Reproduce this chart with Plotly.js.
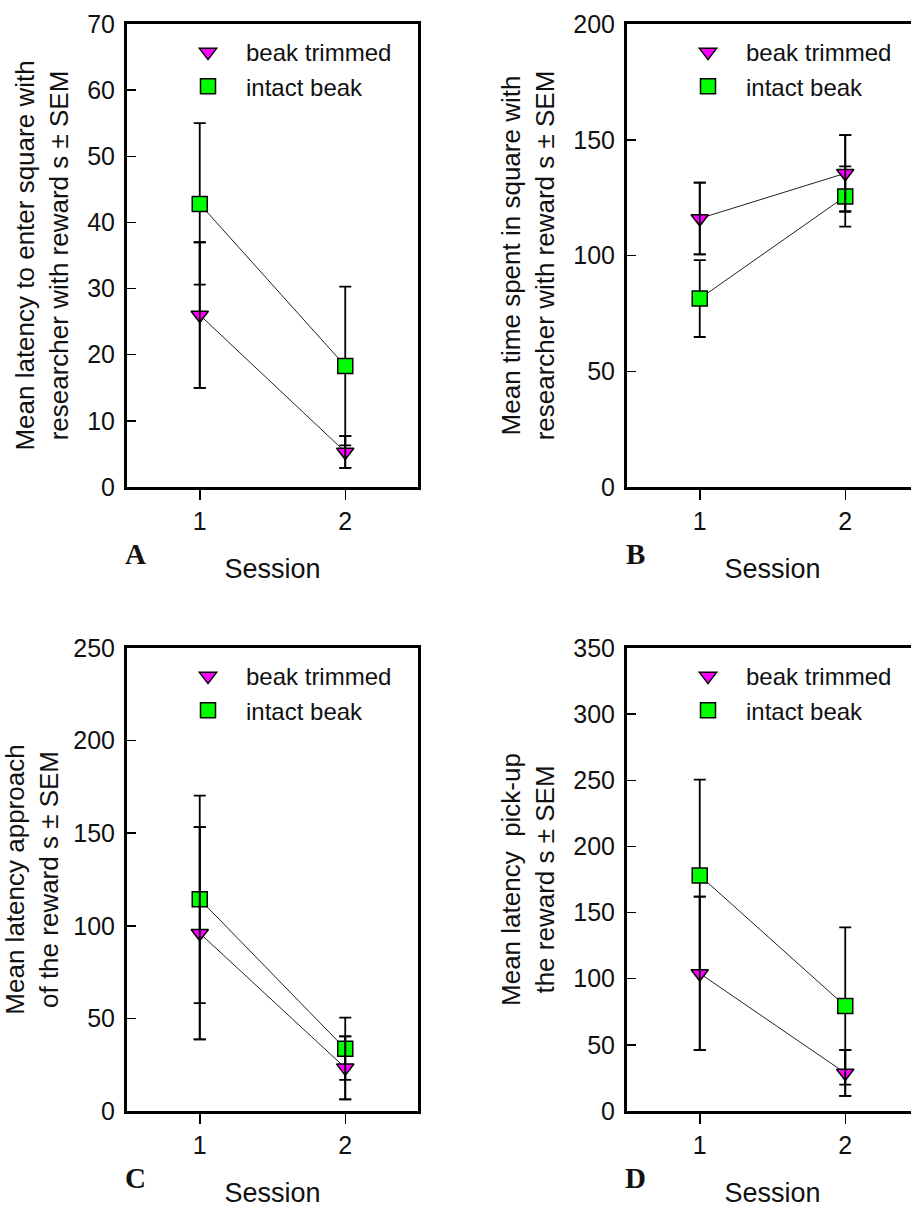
<!DOCTYPE html>
<html>
<head>
<meta charset="utf-8">
<script src="https://cdn.plot.ly/plotly-3.0.1.min.js"></script>
<style>
  html, body { margin: 0; padding: 0; overflow: hidden; background: #fff; }
  #chart { width: 930px; height: 1210px; }
</style>
</head>
<body>
<div id="chart"></div>
<script>
// Sessions on the x axis
const sessions = [1, 2];
const sessionTicks = ['1', '2'];

// A: latency to enter the square with the researcher (s)
const aTrimmed = [26.0, 5.3];
const aTrimmedSem = [11.0, 2.4];
const aIntact = [42.8, 18.3];
const aIntactSem = [12.2, 12.0];

// B: time spent in the square with the researcher (s)
const bTrimmed = [116.0, 135.5];
const bTrimmedSem = [15.5, 16.5];
const bIntact = [81.4, 125.5];
const bIntactSem = [16.6, 13.0];

// C: latency to approach the reward (s)
const cTrimmed = [96.0, 23.3];
const cTrimmedSem = [57.3, 17.0];
const cIntact = [114.3, 33.6];
const cIntactSem = [56.0, 16.8];

// D: latency to pick up the reward (s)
const dTrimmed = [104.0, 28.7];
const dTrimmedSem = [58.0, 17.3];
const dIntact = [178.0, 79.4];
const dIntactSem = [72.5, 59.4];

const groupNames = ['beak trimmed', 'intact beak'];
const panelLetters = ['A', 'B', 'C', 'D'];
const yTitles = [
  'Mean latency to enter square with<br>researcher with reward s \u00b1 SEM',
  'Mean time spent in square with<br>researcher with reward s \u00b1 SEM',
  'Mean latency approach<br>of the reward s \u00b1 SEM',
  'Mean latency  pick-up<br>the reward s \u00b1 SEM'
];
const yMax = [70, 200, 250, 350];
const yStep = [10, 50, 50, 50];

const panels = [
  { trimmed: aTrimmed, trimmedSem: aTrimmedSem, intact: aIntact, intactSem: aIntactSem },
  { trimmed: bTrimmed, trimmedSem: bTrimmedSem, intact: bIntact, intactSem: bIntactSem },
  { trimmed: cTrimmed, trimmedSem: cTrimmedSem, intact: cIntact, intactSem: cIntactSem },
  { trimmed: dTrimmed, trimmedSem: dTrimmedSem, intact: dIntact, intactSem: dIntactSem }
];

const FONT = 'Liberation Sans, Arial, sans-serif';
const INK = '#111';
const W = 930, H = 1210;

// plot-area boxes in pixels: [left, right, top, bottom]
const boxes = [
  [127, 418, 24, 487],
  [627, 918, 24, 487],
  [127, 418, 648, 1111],
  [627, 918, 648, 1111]
];

const traces = [];
const layout = {
  width: W, height: H,
  margin: { l: 0, r: 0, t: 0, b: 0 },
  paper_bgcolor: '#fff', plot_bgcolor: '#fff',
  font: { family: FONT, color: INK },
  showlegend: true,
  annotations: []
};

panels.forEach((p, i) => {
  const n = i + 1;
  const xa = n === 1 ? 'x' : 'x' + n;
  const ya = n === 1 ? 'y' : 'y' + n;
  const leg = n === 1 ? 'legend' : 'legend' + n;
  const [l, r, t, b] = boxes[i];

  const errStyle = { type: 'data', visible: true, color: '#000', thickness: 1.8, width: 6 };

  // connecting lines
  traces.push({
    x: sessions, y: p.intact, xaxis: xa, yaxis: ya, mode: 'lines',
    line: { color: '#222', width: 1 }, showlegend: false, hoverinfo: 'skip'
  });
  traces.push({
    x: sessions, y: p.trimmed, xaxis: xa, yaxis: ya, mode: 'lines',
    line: { color: '#222', width: 1 }, showlegend: false, hoverinfo: 'skip'
  });
  // intact beak
  traces.push({
    x: sessions, y: p.intact, xaxis: xa, yaxis: ya, mode: 'markers',
    name: groupNames[1], legend: leg, legendrank: 2,
    marker: { symbol: 'square', size: 15, color: '#00ff00', line: { color: '#000', width: 1.5 } },
    error_y: Object.assign({ array: p.intactSem }, errStyle)
  });
  // beak trimmed
  traces.push({
    x: sessions, y: p.trimmed, xaxis: xa, yaxis: ya, mode: 'markers',
    name: groupNames[0], legend: leg, legendrank: 1,
    marker: { symbol: 'triangle-down', size: 15, color: '#ff00ff', line: { color: '#000', width: 1.5 } },
    error_y: Object.assign({ array: p.trimmedSem }, errStyle)
  });
  // trimmed-group error bars redrawn above the symbols
  traces.push({
    x: sessions, y: p.trimmed, xaxis: xa, yaxis: ya, mode: 'markers',
    marker: { size: 1, color: 'rgba(0,0,0,0)' }, showlegend: false, hoverinfo: 'skip',
    error_y: Object.assign({ array: p.trimmedSem }, errStyle)
  });

  layout['xaxis' + (n === 1 ? '' : n)] = {
    anchor: ya, domain: [l / W, r / W], range: [0.5, 2.5],
    tickvals: sessions, ticktext: sessionTicks,
    ticks: 'outside', ticklen: 10, tickwidth: 1.5, tickcolor: '#000',
    showline: true, linewidth: 3, linecolor: '#000', mirror: true,
    showgrid: false, zeroline: false, fixedrange: true,
    tickfont: { size: 25, color: INK, family: FONT }, ticklabelstandoff: 0,
    title: { text: 'Session', font: { size: 27, color: INK, family: FONT }, standoff: 26 }
  };
  layout['yaxis' + (n === 1 ? '' : n)] = {
    anchor: xa, domain: [1 - b / H, 1 - t / H], range: [0, yMax[i]],
    tick0: 0, dtick: yStep[i],
    ticks: 'inside', ticklen: 9, tickwidth: 1.5, tickcolor: '#000',
    showline: true, linewidth: 3, linecolor: '#000', mirror: true,
    showgrid: false, zeroline: false, fixedrange: true,
    tickfont: { size: 25, color: INK, family: FONT }, ticklabelstandoff: 4,
    title: { text: yTitles[i], font: { size: 26, color: INK, family: FONT }, standoff: 12 }
  };
  layout[leg] = {
    x: (l + 43) / W, y: 1 - (t + 6) / H, xanchor: 'left', yanchor: 'top',
    bgcolor: 'rgba(0,0,0,0)', borderwidth: 0, itemwidth: 66,
    font: { size: 24, color: INK, family: FONT }, tracegroupgap: 0
  };
  layout.annotations.push({
    xref: 'paper', yref: 'paper', x: (l + 8) / W, y: 1 - (b + 67) / H,
    xanchor: 'center', yanchor: 'middle', showarrow: false,
    text: '<b>' + panelLetters[i] + '</b>',
    font: { family: 'Liberation Serif, Times New Roman, serif', size: 29, color: INK }
  });
});

Plotly.newPlot('chart', traces, layout, { staticPlot: true, displayModeBar: false });
</script>
</body>
</html>
